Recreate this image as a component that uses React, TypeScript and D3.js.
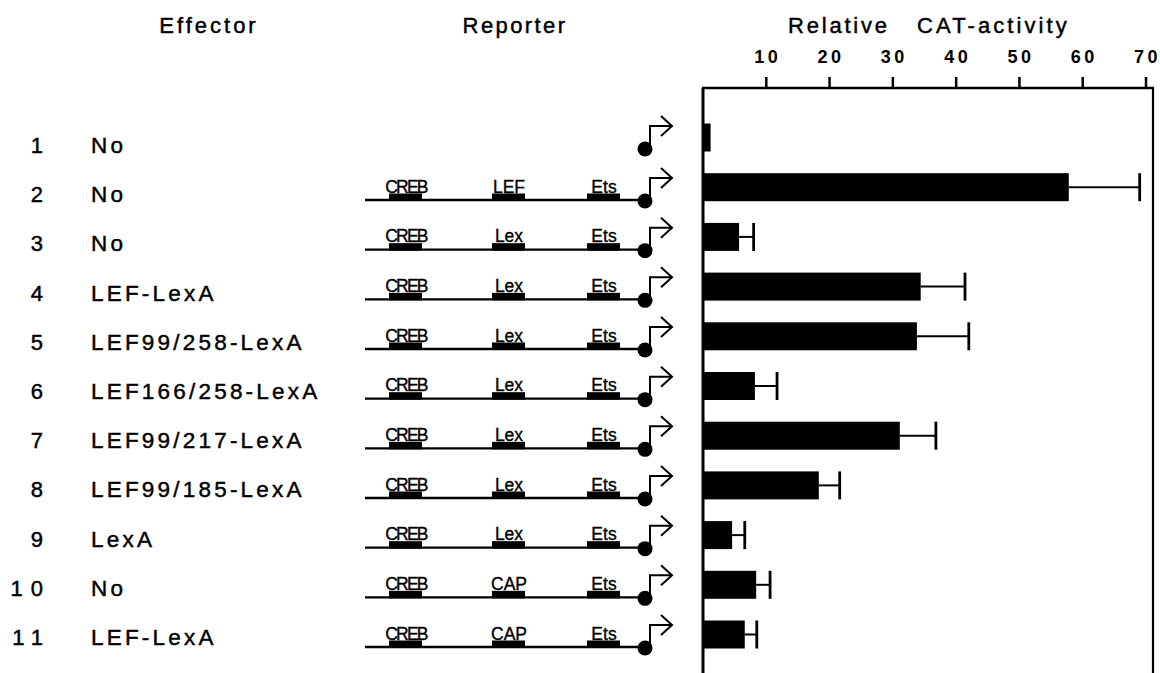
import React from "react";
import * as d3 from "d3";

const rowNumbers = ["1", "2", "3", "4", "5", "6", "7", "8", "9", "10", "11"];
const effectors = ["No", "No", "No", "LEF-LexA", "LEF99/258-LexA", "LEF166/258-LexA", "LEF99/217-LexA", "LEF99/185-LexA", "LexA", "No", "LEF-LexA"];
const middleSites = [null, "LEF", "Lex", "Lex", "Lex", "Lex", "Lex", "Lex", "Lex", "CAP", "CAP"];
const activity = [1.2, 57.8, 5.7, 34.4, 33.8, 8.2, 31.1, 18.3, 4.6, 8.4, 6.6];
const errorTop = [null, 69.0, 8.0, 41.4, 42.0, 11.7, 36.8, 21.6, 6.6, 10.6, 8.5];
const tickValues = [10, 20, 30, 40, 50, 60, 70];

const FONT = "'Liberation Sans', Arial, Helvetica, sans-serif";

export default function App() {
  const W = 1160, H = 673;
  const x = d3.scaleLinear().domain([0, 70]).range([703, 1146]);
  const barY = d3.scaleLinear().domain([0, 10]).range([137.5, 634.5]);
  const textY = d3.scaleLinear().domain([0, 10]).range([153, 645]);
  const lineY = d3.scaleLinear().domain([1, 10]).range([200, 647]);
  const barH = 28;
  const axisTop = 88;
  const xMax = x.invert(1153);

  const sites = [
    { name: "CREB", x0: 389, x1: 422, cx: 406, spacing: -1.8 },
    { name: "mid", x0: 492, x1: 525, cx: 509, spacing: 0 },
    { name: "Ets", x0: 587, x1: 620, cx: 604, spacing: 0 },
  ];

  const bold = { stroke: "#000", strokeWidth: 0.45 };

  return (
    <svg width={W} height={H} style={{ position: "absolute", left: 0, top: 0, background: "#fff" }}
      fontFamily={FONT}>
      <rect x={0} y={0} width={W} height={H} fill="#fff" />
      {/* titles */}
      <text x={209} y={33} fontSize={22} letterSpacing={3} textAnchor="middle" {...bold}>Effector</text>
      <text x={515} y={33} fontSize={22} letterSpacing={2.4} textAnchor="middle" {...bold}>Reporter</text>
      <text x={788} y={33} fontSize={22} letterSpacing={2.8} {...bold}>Relative</text>
      <text x={917} y={33} fontSize={22} letterSpacing={3.1} {...bold}>CAT-activity</text>

      {/* axis ticks */}
      {tickValues.map((t) => (
        <g key={t}>
          <line x1={x(t)} x2={x(t)} y1={axisTop - 11} y2={axisTop} stroke="#000" strokeWidth={2.5} />
          <text x={x(t) + 1.5} y={63} fontSize={18} fontWeight="bold" letterSpacing={3.5} textAnchor="middle">{t}</text>
        </g>
      ))}
      <line x1={x(0) - 1} x2={x(xMax) + 1} y1={axisTop} y2={axisTop} stroke="#000" strokeWidth={2.6} />
      <line x1={x(0)} x2={x(0)} y1={axisTop} y2={H} stroke="#000" strokeWidth={3} />
      <line x1={x(xMax)} x2={x(xMax)} y1={axisTop} y2={H} stroke="#000" strokeWidth={2.2} />

      {/* bars */}
      {activity.map((v, i) => {
        const cy = barY(i);
        const e = errorTop[i];
        return (
          <g key={i}>
            <rect x={x(0)} y={cy - barH / 2} width={x(v) - x(0)} height={barH} fill="#000" />
            {e != null && (
              <g stroke="#000">
                <line x1={x(v)} x2={x(e)} y1={cy} y2={cy} strokeWidth={2} />
                <line x1={x(e)} x2={x(e)} y1={cy - barH / 2} y2={cy + barH / 2} strokeWidth={2.8} />
              </g>
            )}
          </g>
        );
      })}

      {/* row labels */}
      {rowNumbers.map((n, i) => (
        <text key={"n" + i} x={43} y={textY(i)} fontSize={22} letterSpacing={8} textAnchor="end" dx={8} {...bold}>{n}</text>
      ))}
      {effectors.map((e, i) => (
        <text key={"e" + i} x={91} y={textY(i)} fontSize={22.5} letterSpacing={3.2} {...bold}>{e}</text>
      ))}

      {/* reporter constructs */}
      {middleSites.map((m, i) => {
        const L = i === 0 ? 148 : lineY(i);
        const px = 650;
        return (
          <g key={"r" + i}>
            {m != null && (
              <g>
                <line x1={365} x2={644} y1={L} y2={L} stroke="#000" strokeWidth={2.4} />
                {sites.map((s) => (
                  <g key={s.name}>
                    <rect x={s.x0} y={L - 6.5} width={s.x1 - s.x0} height={7.5} fill="#000" />
                    <text x={s.cx} y={L - 7.5} fontSize={17.5} textAnchor="middle" letterSpacing={s.spacing} stroke="#000" strokeWidth={0.35}>
                      {s.name === "mid" ? m : s.name}
                    </text>
                  </g>
                ))}
              </g>
            )}
            <circle cx={645} cy={L + 1} r={7.5} fill="#000" />
            <path d={`M${px},${L} V${L - 22} H${px + 22}`} fill="none" stroke="#000" strokeWidth={2} />
            <path d={`M${px + 11},${L - 32} L${px + 22},${L - 22} L${px + 11},${L - 12}`} fill="none" stroke="#000" strokeWidth={2} />
          </g>
        );
      })}
    </svg>
  );
}
